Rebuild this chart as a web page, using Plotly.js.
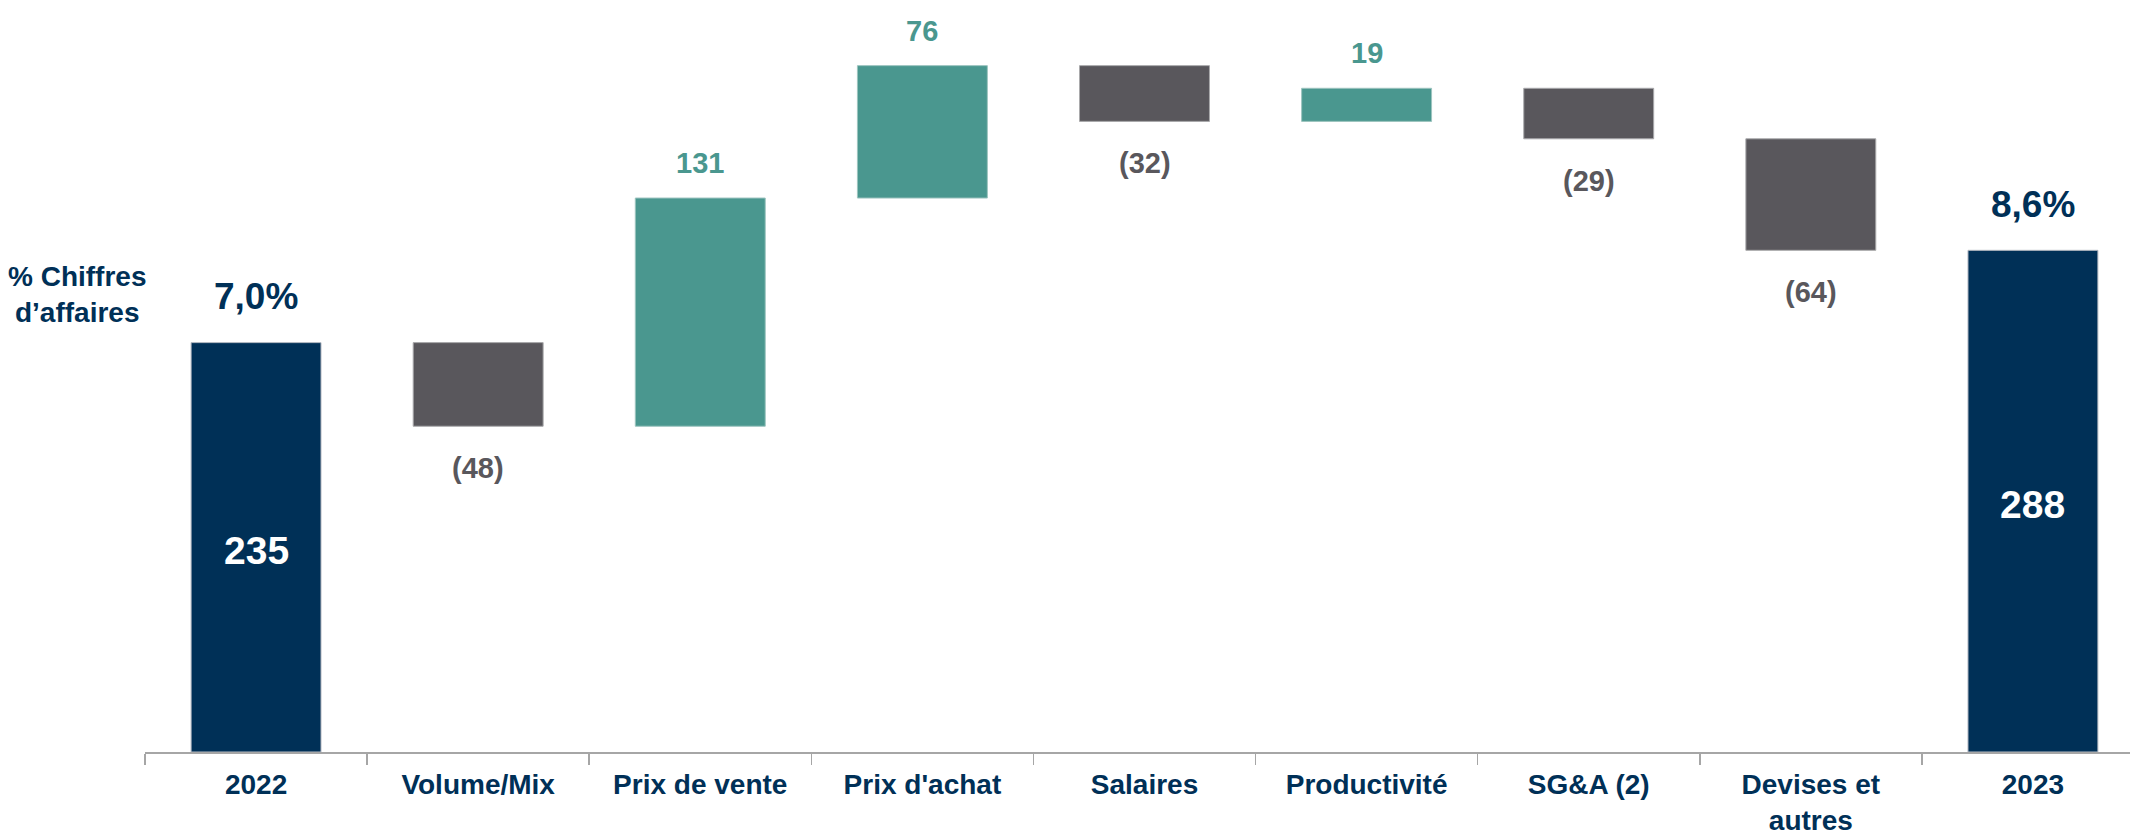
<!DOCTYPE html>
<html>
<head>
<meta charset="utf-8">
<script src="https://cdn.plot.ly/plotly-3.0.1.min.js"></script>
<style>
  html, body { margin: 0; padding: 0; background: #ffffff; }
  #chart { width: 2130px; height: 832px; }
</style>
</head>
<body>
<div id="chart"></div>
<script>
// ---- data ----
const categories = ["2022", "Volume/Mix", "Prix de vente", "Prix d'achat", "Salaires",
                    "Productivité", "SG&A (2)", "Devises et<br>autres", "2023"];
const values     = [235, -48, 131, 76, -32, 19, -29, -64, 288];
const measures   = ["absolute", "relative", "relative", "relative", "relative",
                    "relative", "relative", "relative", "total"];
const marginPct  = ["7,0%", "", "", "", "", "", "", "", "8,6%"];
const sideLabel  = "% Chiffres<br>d’affaires";

// ---- styles ----
const NAVY = "#003057", TEAL = "#4A978F", GREY = "#59575C";
const FONT = "Liberation Sans, Arial, sans-serif";
const W = 2130, H = 832, ML = 145, MR = 0, MT = 20, MB = 80;

// running levels for label placement
const annotations = [];
let level = 0;
for (let i = 0; i < categories.length; i++) {
  const v = values[i];
  if (measures[i] === "absolute" || measures[i] === "total") {
    const total = (measures[i] === "total") ? level : v;
    level = total;
    annotations.push({x: i, y: total / 2, xref: "x", yref: "y", text: String(total),
      showarrow: false, yshift: -3,
      font: {family: FONT, size: 39, color: "#ffffff", weight: "bold"}});
    annotations.push({x: i, y: total, xref: "x", yref: "y", text: marginPct[i],
      showarrow: false, yshift: 46,
      font: {family: FONT, size: 37, color: NAVY, weight: "bold"}});
  } else {
    level += v;
    if (v >= 0) {
      annotations.push({x: i, y: level, xref: "x", yref: "y", text: String(v),
        showarrow: false, yshift: 35,
        font: {family: FONT, size: 29, color: TEAL, weight: "bold"}});
    } else {
      annotations.push({x: i, y: level, xref: "x", yref: "y", text: "(" + Math.abs(v) + ")",
        showarrow: false, yshift: -42,
        font: {family: FONT, size: 29, color: GREY, weight: "bold"}});
    }
  }
}
annotations.push({
  x: (77 - ML) / (W - ML - MR), y: (H - MB - 294) / (H - MT - MB),
  xref: "paper", yref: "paper", text: sideLabel,
  showarrow: false, align: "center", xanchor: "center", yanchor: "middle",
  font: {family: FONT, size: 28, color: NAVY, weight: "bold"}});

const trace = {
  type: "waterfall",
  x: categories,
  y: values,
  measure: measures,
  width: 0.585,
  connector: {visible: false},
  increasing: {marker: {color: TEAL, line: {color: "#9cc4bf", width: 1}}},
  decreasing: {marker: {color: GREY, line: {color: "#a9a9ab", width: 1}}},
  totals:     {marker: {color: NAVY, line: {color: "#b8bcc4", width: 1}}},
  hoverinfo: "none",
  textinfo: "none"
};

const layout = {
  width: W, height: H,
  margin: {l: ML, r: MR, t: MT, b: MB, pad: 0},
  paper_bgcolor: "#ffffff",
  plot_bgcolor: "#ffffff",
  showlegend: false,
  font: {family: FONT},
  xaxis: {
    type: "category",
    range: [-0.5, 8.437],
    showgrid: false,
    zeroline: false,
    showline: true,
    linecolor: "#a6a6a6",
    linewidth: 2,
    ticks: "outside",
    tickson: "boundaries",
    ticklen: 11,
    tickwidth: 1.5,
    tickcolor: "#a6a6a6",
    ticklabelstandoff: 6,
    tickfont: {family: FONT, size: 28, color: NAVY, weight: "bold"},
    automargin: false
  },
  yaxis: {
    range: [0, 420.2],
    visible: false,
    showgrid: false,
    zeroline: false,
    fixedrange: true
  },
  annotations: annotations
};

Plotly.newPlot("chart", [trace], layout, {displayModeBar: false, staticPlot: true});
</script>
</body>
</html>
